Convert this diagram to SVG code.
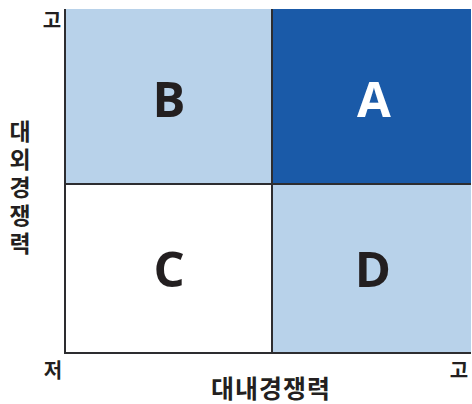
<svg xmlns="http://www.w3.org/2000/svg" width="472" height="404" viewBox="0 0 472 404">
<style>
.q{font-family:"Open Sans","Liberation Sans",sans-serif;font-weight:700;font-size:49px;text-anchor:middle;fill:#231f20}
.k{font-family:"Noto Sans CJK KR",sans-serif;font-weight:700;fill:#231f20;text-anchor:middle}
.ax{stroke:#2d2d30;stroke-width:2;fill:none}
</style>
<rect width="472" height="404" fill="#ffffff"/>
<g id="cellB"><rect x="65" y="9" width="207" height="175" fill="#b8d2ea"/><text class="q" x="169" y="117">B</text></g>
<g id="cellA"><rect x="272" y="9" width="199" height="175" fill="#1a5aa8"/><text class="q" x="374" y="117" style="fill:#ffffff">A</text></g>
<g id="cellC"><rect x="65" y="184" width="207" height="169" fill="#ffffff"/><text class="q" x="169" y="287">C</text></g>
<g id="cellD"><rect x="272" y="184" width="199" height="169" fill="#b8d2ea"/><text class="q" x="373" y="287">D</text></g>
<g id="connectors">
<line class="ax" x1="65" y1="9" x2="65" y2="353"/>
<line class="ax" x1="64" y1="353" x2="471" y2="353"/>
<line class="ax" x1="272" y1="9" x2="272" y2="353"/>
<line class="ax" x1="65" y1="184" x2="471" y2="184"/>
</g>
<g id="labels">
<text class="k" x="52" y="28" font-size="20">고</text>
<text class="k" x="53" y="378" font-size="20">저</text>
<text class="k" x="459" y="378" font-size="20">고</text>
<text class="k" x="271" y="398" font-size="25" letter-spacing="1">대내경쟁력</text>
<text class="k" x="20" y="190" font-size="23" letter-spacing="5" style="writing-mode:vertical-rl">대외경쟁력</text>
</g>
</svg>
